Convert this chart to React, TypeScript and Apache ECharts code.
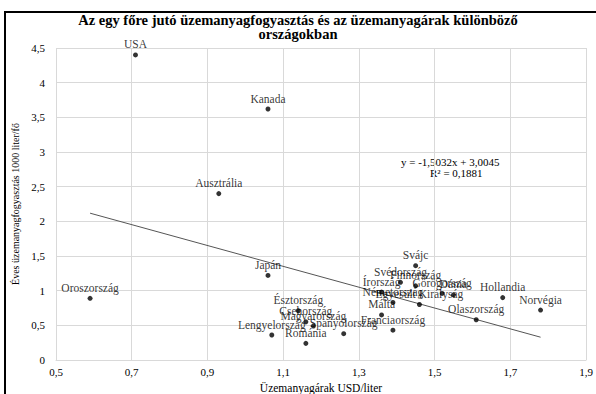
import React, { useEffect, useRef } from "react";
import * as echarts from "echarts";

const countries = [
  "USA", "Kanada", "Ausztrália", "Oroszország", "Japán", "Észtország", "Csehország",
  "Magyarország", "Lengyelország", "Románia", "Spanyolország", "Franciaország", "Málta",
  "Németország", "Egyesült Királyság", "Írország", "Svédország", "Finnország", "Svájc",
  "Görögország", "Dánia", "Hollandia", "Norvégia", "Olaszország",
];
const prices = [
  0.71, 1.06, 0.93, 0.59, 1.06, 1.14, 1.16,
  1.18, 1.07, 1.16, 1.26, 1.39, 1.36,
  1.39, 1.46, 1.36, 1.41, 1.45, 1.45,
  1.52, 1.55, 1.68, 1.78, 1.61,
];
const consumption = [
  4.40, 3.62, 2.40, 0.89, 1.22, 0.71, 0.55,
  0.49, 0.36, 0.24, 0.38, 0.43, 0.65,
  0.83, 0.80, 0.98, 1.12, 1.07, 1.36,
  0.96, 0.94, 0.90, 0.72, 0.58,
];
const trendSlope = -1.5032;
const trendIntercept = 3.0045;
const equationLines = ["y = -1,5032x + 3,0045", "R² = 0,1881"];
const titleLines = ["Az egy főre jutó üzemanyagfogyasztás és az üzemanyagárak különböző", "országokban"];
const xAxisName = "Üzemanyagárak USD/liter";
const yAxisName = "Éves üzemanyagfogyasztás 1000 liter/fő";

const FONT = "'Liberation Serif', 'Times New Roman', serif";

export default function App() {
  const ref = useRef<HTMLDivElement>(null);
  useEffect(() => {
    document.body.style.margin = "0";
    if (!ref.current) return;
    const chart = echarts.init(ref.current, undefined, { renderer: "svg" });
    const points = countries.map((n, i) => ({ name: n, value: [prices[i], consumption[i]] }));
    const xMin = Math.min(...prices);
    const xMax = Math.max(...prices);
    const trend = [
      [xMin, trendSlope * xMin + trendIntercept],
      [xMax, trendSlope * xMax + trendIntercept],
    ];
    const comma = (v: number) => String(v).replace(".", ",");
    chart.setOption({
      animation: false,
      backgroundColor: "#fff",
      textStyle: { fontFamily: FONT },
      title: {
        text: titleLines.join("\n"),
        left: "center",
        top: 8,
        textStyle: { fontFamily: FONT, fontSize: 14.5, fontWeight: "bold", color: "#000", lineHeight: 14 },
      },
      grid: { left: 56, right: 10, top: 48, bottom: 34, containLabel: false, outerBoundsMode: "none" },
      xAxis: {
        type: "value",
        min: 0.5,
        max: 1.9,
        interval: 0.2,
        name: xAxisName,
        nameLocation: "middle",
        nameGap: 16,
        nameTextStyle: { fontFamily: FONT, fontSize: 11.5, color: "#000", verticalAlign: "top" },
        axisLine: { show: true, lineStyle: { color: "#d9d9d9" } },
        axisTick: { show: false },
        axisLabel: { fontFamily: FONT, fontSize: 11, color: "#000", margin: 6, formatter: (v: number) => comma(Math.round(v * 10) / 10) },
        splitLine: { show: true, lineStyle: { color: "#d9d9d9" } },
      },
      yAxis: {
        type: "value",
        min: 0,
        max: 4.5,
        interval: 0.5,
        name: yAxisName,
        nameLocation: "middle",
        nameGap: 31,
        nameTextStyle: { fontFamily: FONT, fontSize: 10, color: "#000" },
        axisLine: { show: false },
        axisTick: { show: false },
        axisLabel: { fontFamily: FONT, fontSize: 11, color: "#000", margin: 11, formatter: (v: number) => comma(v) },
        splitLine: { show: true, lineStyle: { color: "#d9d9d9" } },
      },
      graphic: [
        {
          type: "rect",
          shape: { x: 5, y: 12, width: 620, height: 420 },
          style: { fill: "none", stroke: "#000", lineWidth: 2 },
          silent: true,
        },
        {
          type: "text",
          left: 401,
          top: 156,
          style: { text: equationLines[0], font: `11px ${FONT}`, fill: "#000" },
        },
        {
          type: "text",
          left: 430,
          top: 167,
          style: { text: equationLines[1], font: `11px ${FONT}`, fill: "#000" },
        },
      ],
      series: [
        {
          type: "line",
          data: trend,
          symbol: "none",
          lineStyle: { color: "#555", width: 1 },
          silent: true,
          z: 1,
        },
        {
          type: "scatter",
          data: points,
          symbolSize: 5,
          itemStyle: { color: "#000" },
          label: {
            show: true,
            position: "top",
            distance: 2,
            formatter: (p: any) => p.name,
            fontFamily: FONT,
            fontSize: 11.5,
            color: "#000",
          },
          z: 3,
        },
      ],
    });
    return () => chart.dispose();
  }, []);
  return <div ref={ref} style={{ width: 596, height: 394 }} />;
}
